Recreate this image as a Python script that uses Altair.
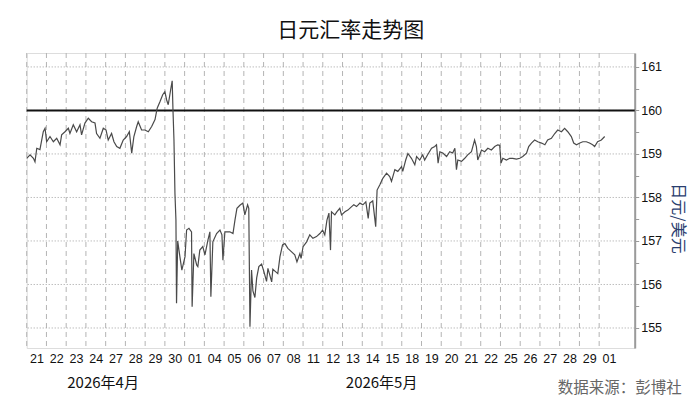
import json
import altair as alt
import pandas as pd

# ---- data ----
day_labels = ["21", "22", "23", "24", "27", "28", "29", "30", "01", "04",
              "05", "06", "07", "08", "11", "12", "13", "14", "15", "18",
              "19", "20", "21", "22", "25", "26", "27", "28", "29", "01"]

month_labels = ["2026年4月", "2026年5月"]
month_pos = [3.87, 17.98]

# time in trading-day units (0 = start of 21 Apr), price in JPY per USD
t_vals = [
    0.00, 0.17, 0.34, 0.42, 0.51, 0.67, 0.84, 0.93, 1.01, 1.18, 1.35, 1.52, 1.69, 1.77, 1.94,
    2.11, 2.19, 2.36, 2.53, 2.70, 2.78, 2.95, 3.12, 3.29, 3.46, 3.54, 3.71, 3.88, 4.02, 4.13,
    4.30, 4.42, 4.56, 4.72, 4.89, 5.06, 5.20, 5.32, 5.43, 5.57, 5.65, 5.82, 5.99, 6.16, 6.33,
    6.50, 6.61, 6.75, 6.89, 7.00, 7.09, 7.17, 7.29, 7.37, 7.41, 7.46, 7.51, 7.56, 7.59, 7.65,
    7.76, 7.86, 8.02, 8.10, 8.22, 8.35, 8.38, 8.47, 8.61, 8.67, 8.77, 8.92, 9.03, 9.18, 9.28,
    9.33, 9.43, 9.62, 9.79, 9.89, 9.94, 10.04, 10.29, 10.45, 10.55, 10.65, 10.80, 10.95, 11.05,
    11.19, 11.25, 11.31, 11.39, 11.46, 11.56, 11.65, 11.76, 11.90, 12.02, 12.15, 12.22, 12.41,
    12.47, 12.62, 12.72, 12.83, 12.96, 13.08, 13.23, 13.42, 13.58, 13.69, 13.84, 13.90, 14.00,
    14.18, 14.34, 14.50, 14.68, 14.85, 14.99, 15.10, 15.21, 15.31, 15.39, 15.44, 15.61, 15.71,
    15.86, 15.95, 16.12, 16.27, 16.46, 16.57, 16.71, 16.88, 17.03, 17.18, 17.30, 17.38, 17.53,
    17.68, 17.75, 17.89, 18.04, 18.23, 18.39, 18.48, 18.65, 18.80, 18.99, 19.05, 19.20, 19.31,
    19.49, 19.66, 19.75, 19.91, 20.06, 20.16, 20.31, 20.51, 20.67, 20.76, 20.84, 20.93, 21.08,
    21.27, 21.43, 21.58, 21.69, 21.77, 21.84, 22.03, 22.19, 22.34, 22.53, 22.69, 22.78, 22.85,
    23.04, 23.20, 23.36, 23.54, 23.71, 23.86, 23.96, 24.03, 24.12, 24.30, 24.47, 24.62, 24.81,
    24.98, 25.13, 25.32, 25.43, 25.57, 25.73, 25.89, 26.08, 26.25, 26.39, 26.58, 26.75, 26.90,
    27.09, 27.25, 27.41, 27.59, 27.71, 27.85, 28.02, 28.17, 28.35, 28.51, 28.67, 28.77, 28.92,
    29.11, 29.28,
]
price_vals = [
    158.90, 158.98, 158.90, 158.82, 159.13, 159.10, 159.51, 159.59, 159.28, 159.40, 159.28, 159.36, 159.21, 159.44, 159.51,
    159.59, 159.47, 159.67, 159.51, 159.67, 159.44, 159.71, 159.82, 159.74, 159.71, 159.47, 159.36, 159.59, 159.55, 159.32,
    159.47, 159.28, 159.17, 159.13, 159.32, 159.40, 159.51, 159.02, 159.40, 159.63, 159.74, 159.55, 159.55, 159.51, 159.63,
    159.79, 160.05, 160.20, 160.36, 160.43, 160.24, 160.13, 160.47, 160.68, 160.01, 159.32, 158.09, 157.48, 155.57, 157.00,
    156.64, 156.33, 156.64, 157.25, 157.29, 157.21, 155.49, 156.71, 156.45, 156.41, 156.79, 156.87, 156.68, 157.02, 157.21,
    155.72, 156.98, 157.17, 157.25, 157.14, 156.56, 157.21, 157.21, 157.17, 157.48, 157.75, 157.82, 157.87, 157.60,
    157.83, 157.75, 155.03, 156.33, 155.85, 155.70, 156.15, 156.41, 156.47, 156.29, 156.07, 156.37, 156.06,
    156.35, 156.29, 156.25, 156.64, 156.91, 156.94, 156.83, 156.75, 156.68, 156.52, 156.71, 156.60, 156.87,
    156.98, 157.14, 157.06, 157.10, 157.17, 157.25, 157.14, 157.48, 157.64, 156.79, 157.67, 157.60, 157.67,
    157.75, 157.60, 157.67, 157.71, 157.79, 157.83, 157.79, 157.87, 157.83, 157.90, 157.52, 157.87, 157.92,
    157.33, 158.17, 158.29, 158.44, 158.56, 158.48, 158.37, 158.64, 158.60, 158.71, 158.60, 158.86, 159.01,
    158.90, 158.75, 158.94, 158.86, 158.98, 158.86, 158.98, 159.13, 159.17, 159.21, 158.79, 159.05, 159.02,
    158.94, 159.05, 159.02, 159.13, 158.64, 158.86, 158.83, 158.90, 158.98, 159.05, 159.32, 159.17, 158.86,
    159.09, 159.05, 159.13, 159.09, 159.17, 159.21, 159.20, 158.79, 158.90, 158.86, 158.90, 158.90, 158.88,
    158.90, 158.94, 159.02, 159.17, 159.25, 159.32, 159.28, 159.25, 159.21, 159.32, 159.36, 159.47, 159.55,
    159.51, 159.59, 159.51, 159.40, 159.25, 159.21, 159.25, 159.28, 159.28, 159.25, 159.21, 159.17, 159.28,
    159.32, 159.40,
]

grid_levels = [155, 156, 157, 158, 159, 160, 161]
ref_level = [160]
y_tick_values = [155, 155.5, 156, 156.5, 157, 157.5, 158, 158.5, 159, 159.5, 160, 160.5, 161]
source_text = "数据来源：彭博社"

# ---- tables ----
price_df = pd.DataFrame({"t": t_vals, "price": price_vals})
day_bounds_df = pd.DataFrame({"t": list(range(len(day_labels)))})
day_centers = [i + 0.5 for i in range(len(day_labels))]
grid_df = pd.DataFrame({"price": grid_levels})
ref_df = pd.DataFrame({"price": ref_level})
month_df = pd.DataFrame({"t": month_pos, "label": month_labels})
source_df = pd.DataFrame({"label": [source_text]})

num_font = "Liberation Sans"
cjk_font = "Noto Sans CJK SC"

xscale = alt.Scale(domain=[0, 30.8], nice=False, zero=False)
yscale = alt.Scale(domain=[154.54, 161.32], nice=False, zero=False)

xaxis = alt.Axis(
    values=day_centers,
    labelExpr=json.dumps(day_labels) + "[floor(datum.value)]",
    domain=False, ticks=False, grid=False, title=None,
    labelFont=num_font, labelFontSize=12.5, labelColor="#111",
    labelPadding=4, labelFlush=False,
)
yaxis = alt.Axis(
    orient="right", values=y_tick_values,
    labelExpr="datum.value % 1 == 0 ? format(datum.value, 'd') : ''",
    domain=True, domainColor="#9a9a9a", domainWidth=2,
    ticks=True, tickColor="#9a9a9a", tickSize=4, tickWidth=1,
    grid=False,
    labelFont=num_font, labelFontSize=12.5, labelColor="#111", labelPadding=2,
    title="日元/美元", titleFont=cjk_font, titleFontSize=16, titleFontWeight="normal",
    titleColor="#2a3d6e", titleAngle=90, titleX=43, titleY=165,
    titleAlign="center", titleBaseline="middle",
)

X = lambda f: alt.X(f, type="quantitative", scale=xscale, axis=xaxis)
Y = lambda f: alt.Y(f, type="quantitative", scale=yscale, axis=yaxis)

vgrid = alt.Chart(day_bounds_df).mark_rule(
    color="#b4b4b4", strokeDash=[5, 4], strokeWidth=1
).encode(x=X("t"))

hgrid = alt.Chart(grid_df).mark_rule(
    color="#a0a0a0", strokeDash=[1, 2], strokeWidth=1
).encode(y=Y("price"))

ref = alt.Chart(ref_df).mark_rule(color="#111", strokeWidth=2).encode(y=Y("price"))

line = alt.Chart(price_df).mark_line(
    color="#4a4a4a", strokeWidth=1.2, interpolate="linear"
).encode(x=X("t"), y=Y("price"))

months = alt.Chart(month_df).mark_text(
    font=cjk_font, fontSize=15, color="#111", align="center", baseline="middle"
).encode(x=X("t"), y=alt.value(330), text="label:N")

source = alt.Chart(source_df).mark_text(
    font=cjk_font, fontSize=15.5, color="#666", align="right", baseline="middle"
).encode(x=alt.value(655), y=alt.value(335), text="label:N")

chart = alt.layer(vgrid, hgrid, ref, line, months, source).properties(
    width=608,
    height=295,
    autosize=alt.AutoSizeParams(type="none"),
    padding={"left": 18.7, "top": 45, "right": 57.3, "bottom": 50},
    title=alt.TitleParams(
        text="日元汇率走势图", font=cjk_font, fontSize=21, fontWeight="normal",
        color="#111", anchor="middle", dx=20, offset=12,
    ),
).configure_view(stroke=None).configure(background="white")

chart.save("out.html", embed_options={"renderer": "svg", "actions": False})
